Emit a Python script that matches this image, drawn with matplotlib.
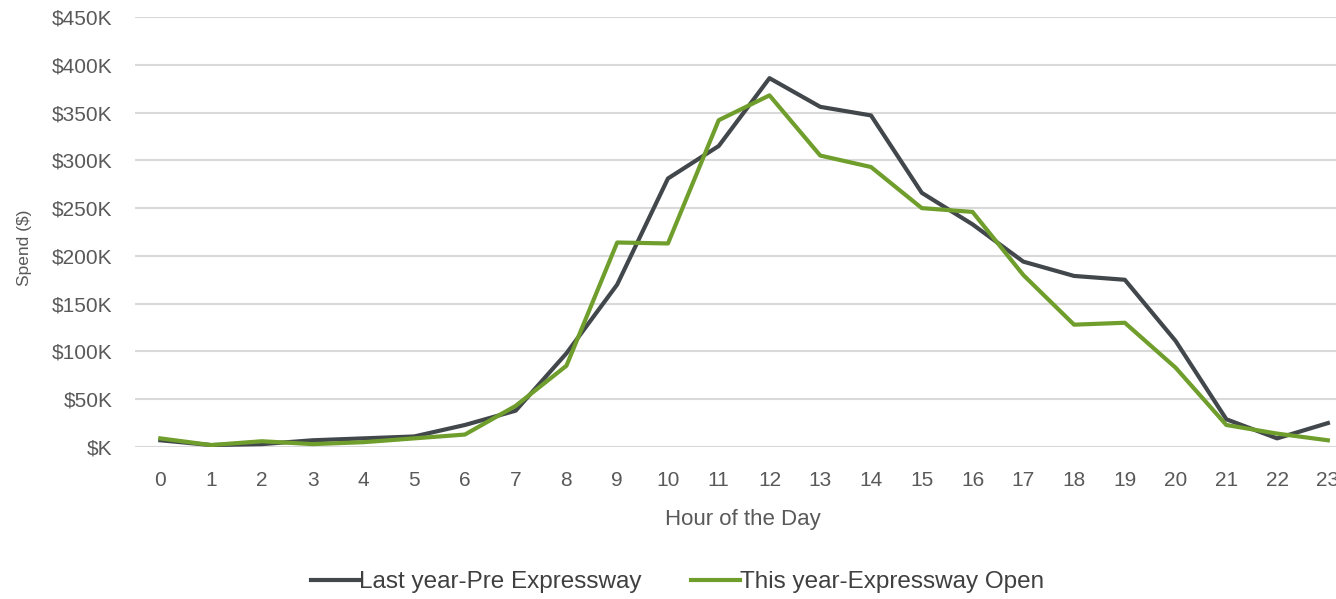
import matplotlib
matplotlib.use('Agg')
import matplotlib.pyplot as plt
from matplotlib.ticker import FuncFormatter

hours = list(range(24))
last_year = [7, 2, 3, 7, 9, 11, 23, 38, 98, 170, 281, 315, 386, 356, 347, 266, 233, 194, 179, 175, 111, 29, 9, 25]
this_year = [9, 2, 6, 3, 5, 9, 13, 43, 85, 214, 213, 342, 368, 305, 293, 250, 246, 180, 128, 130, 83, 23, 14, 7]
series_names = ['Last year-Pre Expressway', 'This year-Expressway Open']

plt.rcParams['font.family'] = ['Liberation Sans', 'DejaVu Sans']
text_color = '#595959'

fig = plt.figure(figsize=(13.36, 5.99), dpi=100)
ax = fig.add_axes([0.101, 0.2538, 0.899, 0.7178])

ax.plot(hours, [v * 1000 for v in last_year], color='#41474b', lw=3, label=series_names[0])
ax.plot(hours, [v * 1000 for v in this_year], color='#6f9e2c', lw=3, label=series_names[1])

ax.set_xlim(-0.5, 23.16)
ax.set_ylim(0, 450000)
ax.set_yticks(range(0, 450001, 50000))
ax.set_xticks(hours)
ax.yaxis.set_major_formatter(FuncFormatter(lambda v, p: '$%dK' % (v / 1000) if v else '$K'))
ax.grid(axis='y', color='#d9d9d9', lw=1.5)
ax.set_axisbelow(True)
for s in ax.spines.values():
    s.set_visible(False)
ax.tick_params(length=0, labelsize=15, labelcolor=text_color)
ax.tick_params(axis='x', pad=17)
ax.tick_params(axis='y', pad=16)

ax.set_xlabel('Hour of the Day', fontsize=16, color=text_color, va='center')
ax.xaxis.set_label_coords(0.506, -0.168)
ax.set_ylabel('Spend ($)', fontsize=12.5, color=text_color, va='center')
ax.yaxis.set_label_coords(-0.092, 0.463)

fig.legend(loc='center', bbox_to_anchor=(0.507, 0.028), ncol=2, frameon=False,
           fontsize=17.5, handlelength=2.0, handletextpad=0.0, columnspacing=2.05,
           labelcolor='#404040')

fig.savefig('out.png', dpi=100)
